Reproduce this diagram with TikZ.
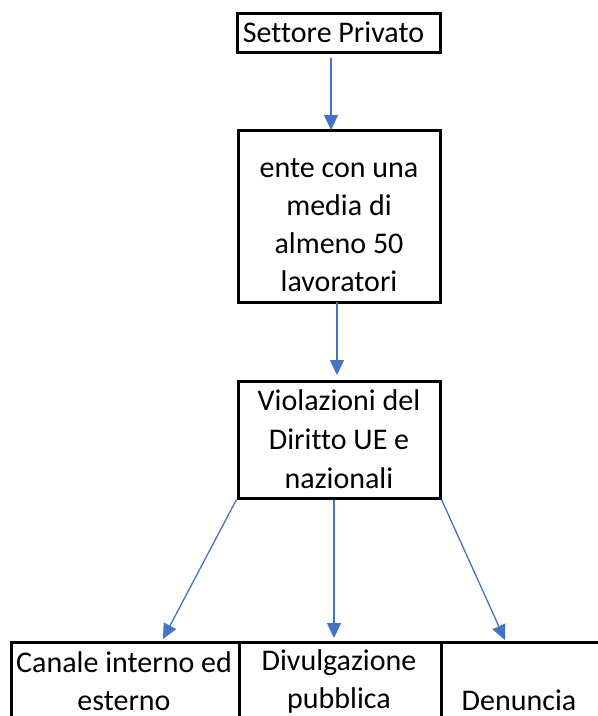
\documentclass[tikz,border=0pt]{standalone}
\usepackage{fontspec}
\setmainfont[Ligatures=NoCommon]{Carlito}
\usetikzlibrary{arrows.meta,calc}
\definecolor{arrowblue}{HTML}{4472C4}
\begin{document}
\begin{tikzpicture}[x=1pt,y=-1pt,
  box/.style={draw=black,line width=3pt,align=center,inner sep=0pt,font=\fontsize{30}{39}\selectfont},
  cell/.style={draw=black,line width=2.5pt,inner sep=0pt,anchor=north west},
  lbl/.style={align=center,inner sep=0pt,font=\fontsize{30}{38}\selectfont},
  arr/.style={draw=arrowblue,line width=1.3pt,-{Triangle[width=14pt,length=15pt]}}]
\useasboundingbox (0,0) rectangle (598,716);
\clip (0,0) rectangle (598,716);
\fill[white] (0,0) rectangle (598,716);
% boxes
\node[box,minimum width=203pt,minimum height=39pt] (top) at (338.5,32.5) {\hspace*{-10pt}Settore Privato};
\node[box,minimum width=202pt,minimum height=172pt] (ente) at (339,216) {};
\node[lbl] (entetext) at (339,225) {ente con una\\media di\\almeno 50\\lavoratori};
\node[box,minimum width=202pt,minimum height=117pt] (viol) at (339,439.5) {Violazioni del\\Diritto UE e\\nazionali};
% bottom row cells
\node[cell,minimum width=228pt,minimum height=120pt] (c1) at (10,641) {};
\node[cell,minimum width=202pt,minimum height=120pt] (c2) at (238,641) {};
\node[cell,minimum width=200pt,minimum height=120pt] (c3) at (440,641) {};
\node[lbl] (t1) at (124,681.5) {Canale interno ed\\esterno};
\node[lbl] (t2) at (339,681.5) {Divulgazione\\pubblica};
\node[lbl] (t3) at (519,700) {Denuncia};
% arrow end points
\coordinate (a1s) at (331,58);
\coordinate (a1e) at (331,130);
\coordinate (a2s) at (337,302);
\coordinate (a2e) at (337,375);
\coordinate (m3s) at (334,500);
\coordinate (tip1) at (163,639);
\coordinate (tip2) at (334,638);
\coordinate (tip3) at (505,640);
% connectors
\draw[arr] (a1s) -- (a1e);
\draw[arr] (a2s) -- (a2e);
\draw[arr] (viol.south west) -- (tip1);
\draw[arr] (m3s) -- (tip2);
\draw[arr] (viol.south east) -- (tip3);
\end{tikzpicture}
\end{document}
